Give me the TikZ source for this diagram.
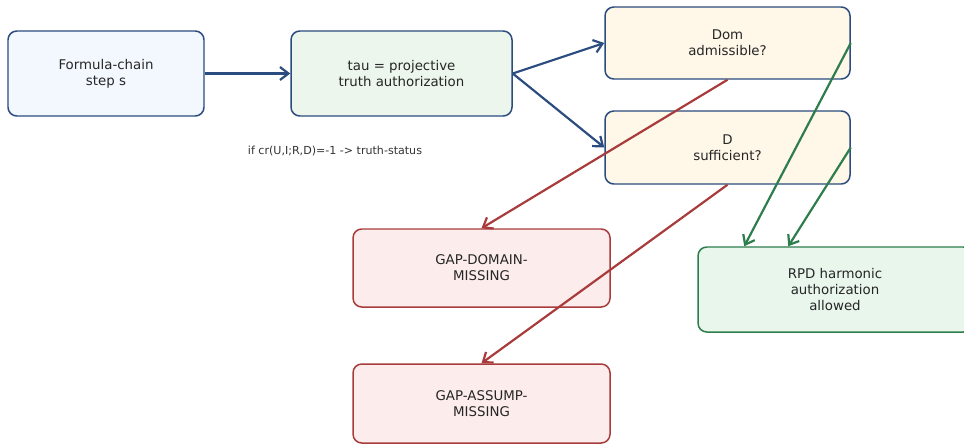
\documentclass[tikz,border=0pt]{standalone}
\usepackage{fontspec}
\setmainfont{DejaVu Sans}
\usepackage{xcolor}
\usepackage{tikz}
\usetikzlibrary{arrows.meta, positioning}
\definecolor{edgeblue}{HTML}{2B4C7E}
\definecolor{edgered}{HTML}{A83C3C}
\definecolor{edgegreen}{HTML}{2E7D4C}
\definecolor{fillblue}{HTML}{F3F8FF}
\definecolor{filltau}{HTML}{ECF6EC}
\definecolor{fillyellow}{HTML}{FFF7E8}
\definecolor{fillred}{HTML}{FDECEC}
\definecolor{fillgreen}{HTML}{E8F6EC}
\tikzset{
    box/.style={
        rectangle, rounded corners=5pt, align=center, line width=0.85pt,
        font=\fontsize{7.6}{9.2}\selectfont, text=black!85
    },
    box_start/.style={box, draw=edgeblue, fill=fillblue},
    box_tau/.style={box, draw=edgeblue, fill=filltau},
    box_check/.style={box, draw=edgeblue, fill=fillyellow},
    box_gap/.style={box, draw=edgered, fill=fillred},
    box_ok/.style={box, draw=edgegreen, fill=fillgreen},
    arrow/.style={
        line width=1.25pt, -{Straight Barb[length=1.7mm, width=2.6mm]}, draw=edgeblue
    },
    arrow_red/.style={arrow, draw=edgered},
    arrow_green/.style={arrow, draw=edgegreen}
}

\begin{document}
\begin{tikzpicture}
    \useasboundingbox (0, 0) rectangle (19.28, -8.92);

    \node[box_start, minimum width=3.92cm, minimum height=1.7cm] (step) at (2.12, -1.47) {Formula-chain\\step s};
    \node[box_tau, minimum width=4.42cm, minimum height=1.7cm] (tau) at (8.03, -1.47) {tau = projective\\truth authorization};
    \node[font=\fontsize{6.3}{7.5}\selectfont, text=black!80] (note) at (6.70, -3.02) {if cr(U,I;R,D)=-1 -> truth-status};

    % Pruefungen
    \node[box_check, minimum width=4.9cm, minimum height=1.44cm] (dom) at (14.55, -0.86) {Dom\\admissible?};
    \node[box_check, minimum width=4.9cm, minimum height=1.46cm] (suff) at (14.55, -2.95) {D\\sufficient?};

    % Ergebnisse
    \node[box_gap, minimum width=5.14cm, minimum height=1.56cm] (gapdom) at (9.63, -5.36) {GAP-DOMAIN-\\MISSING};
    \node[box_gap, minimum width=5.14cm, minimum height=1.58cm] (gapass) at (9.63, -8.07) {GAP-ASSUMP-\\MISSING};
    \node[box_ok, minimum width=5.48cm, minimum height=1.7cm] (rpd) at (16.70, -5.79) {RPD harmonic\\authorization\\allowed};

    \draw[arrow] (step) -- (tau);
    \draw[arrow] (tau.east) -- (dom.west);
    \draw[arrow] (tau.east) -- (suff.west);
    \draw[arrow_red] (dom.south) -- (gapdom.north);
    \draw[arrow_red] (suff.south) -- (gapass.north);
    \draw[arrow_green] (dom.east) -- ([xshift=0.94cm]rpd.north west);
    \draw[arrow_green] (suff.east) -- ([xshift=1.82cm]rpd.north west);
\end{tikzpicture}
\end{document}
